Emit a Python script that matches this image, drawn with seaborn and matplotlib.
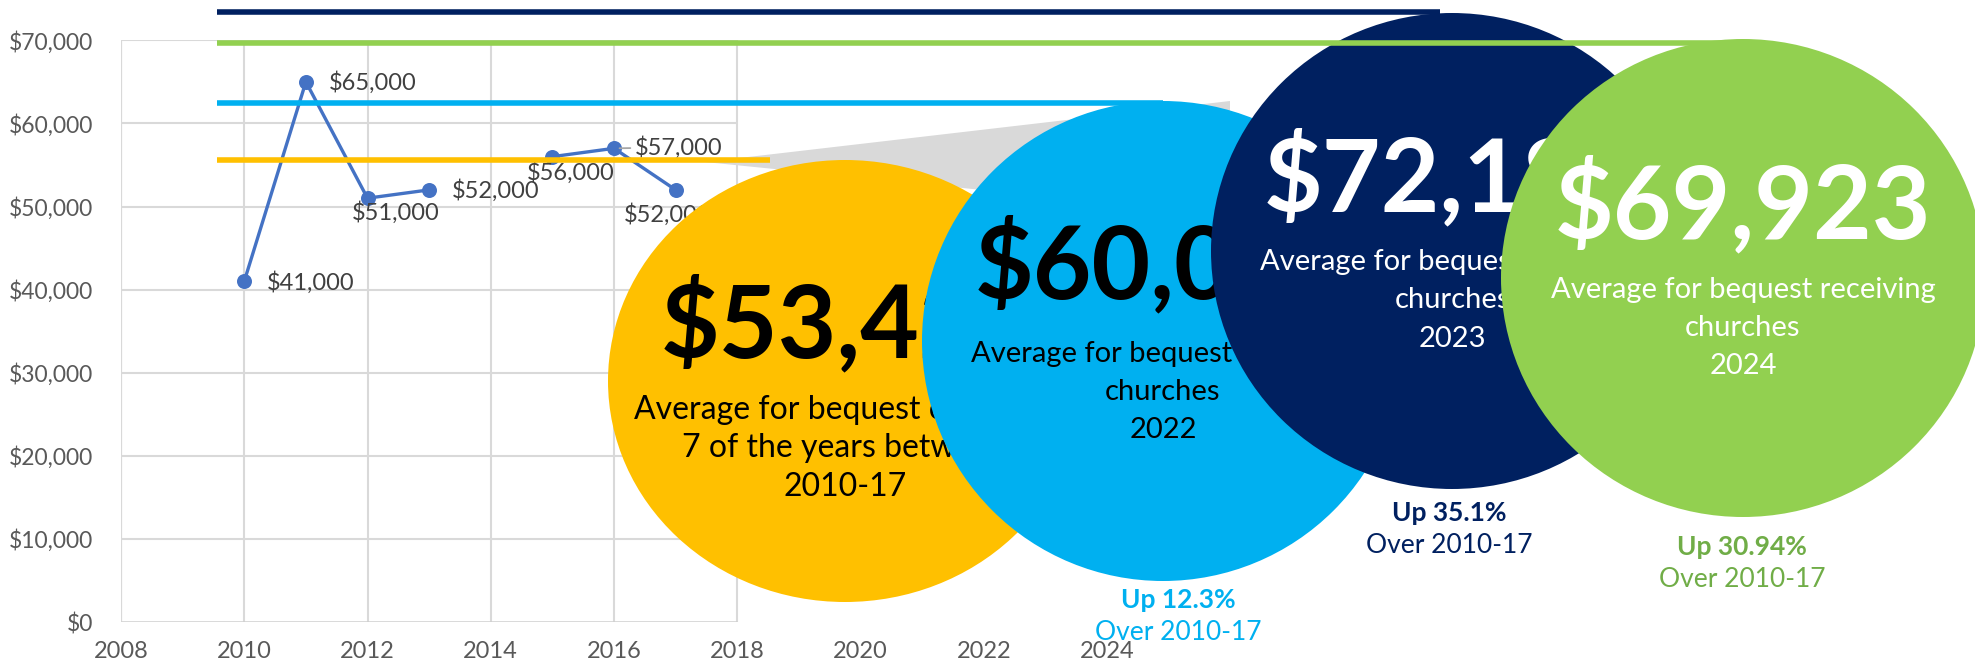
import numpy as np
import pandas as pd
import matplotlib
matplotlib.use("Agg")
import matplotlib.pyplot as plt
import matplotlib.transforms as mtransforms
from matplotlib.patches import Ellipse, Polygon
import seaborn as sns

# ---------------- data ----------------
years = [2010, 2011, 2012, 2013, 2014, 2015, 2016, 2017]
avg_bequest = [41000, 65000, 51000, 52000, np.nan, 56000, 57000, 52000]
point_labels = ["$41,000", "$65,000", "$51,000", "$52,000", "", "$56,000", "$57,000", "$52,000"]

x_ticks = [2008, 2010, 2012, 2014, 2016, 2018, 2020, 2022, 2024]
x_tick_labels = ["2008", "2010", "2012", "2014", "2016", "2018", "2020", "2022", "2024"]
y_ticks = [0, 10000, 20000, 30000, 40000, 50000, 60000, 70000]
y_tick_labels = ["$0", "$10,000", "$20,000", "$30,000", "$40,000", "$50,000", "$60,000", "$70,000"]

summary_values = ["$53,429", "$60,001", "$72,182", "$69,923"]
summary_levels = [55650, 62500, 73400, 69650]   # level bars as drawn
summary_line1 = ["Average for bequest churches", "Average for bequest receiving",
                 "Average for bequest receiving", "Average for bequest receiving"]
summary_line2 = ["7 of the years between", "churches", "churches", "churches"]
summary_line3 = ["2010-17", "2022", "2023", "2024"]
change_up = ["", "Up 12.3%", "Up 35.1%", "Up 30.94%"]
change_over = ["", "Over 2010-17", "Over 2010-17", "Over 2010-17"]

# ---------------- style ----------------
sns.set_theme(style="white")
plt.rcParams["font.family"] = ["Lato", "DejaVu Sans"]

W, H = 1975, 667
fig = plt.figure(figsize=(W / 100, H / 100), dpi=100, facecolor="white")
ax_left, ax_right, ax_bot, ax_top = 121, 1107, 622, 40.3
ax = fig.add_axes([ax_left / W, (H - ax_bot) / H, (ax_right - ax_left) / W, (ax_bot - ax_top) / H])
ax.set_xlim(2008, 2024)
ax.set_ylim(0, 70000)
for s in ax.spines.values():
    s.set_visible(False)
ax.set_facecolor("none")

# pixel transform (origin top-left)
P = mtransforms.Affine2D().scale(1 / W, -1 / H).translate(0, 1) + fig.transFigure
PX_Y = mtransforms.blended_transform_factory(P, ax.transData)

grid_c = "#D9D9D9"
ax.hlines(y_ticks[1:], 2008, 2018, color=grid_c, lw=1.5, zorder=0.5)
ax.vlines([2010, 2012, 2014, 2016, 2018], 0, 70000, color=grid_c, lw=1.5, zorder=0.5)
ax.vlines([2008], 0, 70000, color=grid_c, lw=1.6, zorder=0.6)
ax.hlines([0], 2008, 2018, color="#CFCFCF", lw=1.8, zorder=0.6)

ax.set_xticks(x_ticks)
ax.set_xticklabels(x_tick_labels)
ax.set_yticks(y_ticks)
ax.set_yticklabels(y_tick_labels)
ax.tick_params(axis="x", length=0, labelsize=17, labelcolor="#595959", pad=14)
ax.tick_params(axis="y", length=0, labelsize=16.5, labelcolor="#595959", pad=20)

# ---------------- series ----------------
df = pd.DataFrame({"year": years, "value": avg_bequest, "label": point_labels})
df["segment"] = df["value"].isna().cumsum()
dfl = df.dropna(subset=["value"])
sns.lineplot(data=dfl, x="year", y="value", units="segment", estimator=None,
             color="#4472C4", lw=2.4, marker="o", markersize=10.8,
             markeredgewidth=0, markeredgecolor="#4472C4", ax=ax, zorder=3, legend=False)
ax.set_xlabel("")
ax.set_ylabel("")

# label offsets in pixels (dx right, dy down) and alignment
lab_off = [(23, 1, "left"), (23, 1, "left"), (28, 14, "center"), (23, 1, "left"),
           None, (18, 16, "center"), (21, -1, "left"), (-8, 25, "center")]
for (yr, val, lab), off in zip(dfl[["year", "value", "label"]].itertuples(index=False), [o for o in lab_off if o]):
    dx, dy, ha = off
    kw = {}
    if lab == "$57,000":
        kw["arrowprops"] = dict(arrowstyle="-", color="#A6A6A6", lw=1.3, shrinkA=1, shrinkB=4)
    ax.annotate(lab, (yr, val), xytext=(dx / 1.389, -dy / 1.389), textcoords="offset points",
                ha=ha, va="center", fontsize=17, color="#404040", zorder=3, **kw)

# ---------------- level bars & callout wedge ----------------
colors = ["#FFC000", "#00B0F0", "#002060", "#92D050"]
level_x = [(217, 770), (217, 1163), (217, 1440), (217, 1745)]
level_z = [4, 4, 4, 7.5]
for lvl, (x0, x1), c, z in zip(summary_levels, level_x, colors, level_z):
    ax.plot([x0, x1], [lvl, lvl], color=c, lw=4.0, solid_capstyle="butt",
            transform=PX_Y, clip_on=False, zorder=z)

ax.add_patch(Polygon([(705, 162), (1230, 101), (1230, 215)], closed=True, facecolor="#D9D9D9",
                     edgecolor="none", transform=P, clip_on=False, zorder=3.5))

# ---------------- circles ----------------
circ = [(845, 381, 237, 221), (1163, 341, 241, 240), (1452, 251, 241, 238), (1743, 278, 242, 239)]
big_y = [357, 298, 211, 238]
big_x = [849, 1163, 1452, 1743]
line_y = [(419, 457, 496), (362, 400, 438), (270, 308, 347), (298, 336, 374)]
text_c = ["black", "black", "white", "white"]
sub_fs = [23, 21, 21, 21]
change_pos = [None, (1178, 608, 640), (1449, 521, 553), (1742, 555, 587)]
change_c = [None, "#00B0F0", "#002060", "#70AD47"]
for i in range(4):
    cx, cy, rx, ry = circ[i]
    z = 5 + i if i < 3 else 8
    ax.add_patch(Ellipse((cx, cy), 2 * rx, 2 * ry, facecolor=colors[i], edgecolor="none",
                         transform=P, clip_on=False, zorder=z))
    ax.text(big_x[i], big_y[i], summary_values[i], transform=P, ha="center", va="baseline",
            fontsize=73, fontweight="bold", color=text_c[i], zorder=z + 0.1)
    for txt, yy in zip([summary_line1[i], summary_line2[i], summary_line3[i]], line_y[i]):
        ax.text(cx, yy, txt, transform=P, ha="center", va="baseline",
                fontsize=sub_fs[i], color=text_c[i], zorder=z + 0.1)
    if change_pos[i]:
        x, y1, y2 = change_pos[i]
        ax.text(x, y1, change_up[i], transform=P, ha="center", va="baseline",
                fontsize=19, fontweight="bold", color=change_c[i], zorder=9)
        ax.text(x, y2, change_over[i], transform=P, ha="center", va="baseline",
                fontsize=19, color=change_c[i], zorder=9)

fig.savefig("out.png", dpi=100, facecolor="white")
